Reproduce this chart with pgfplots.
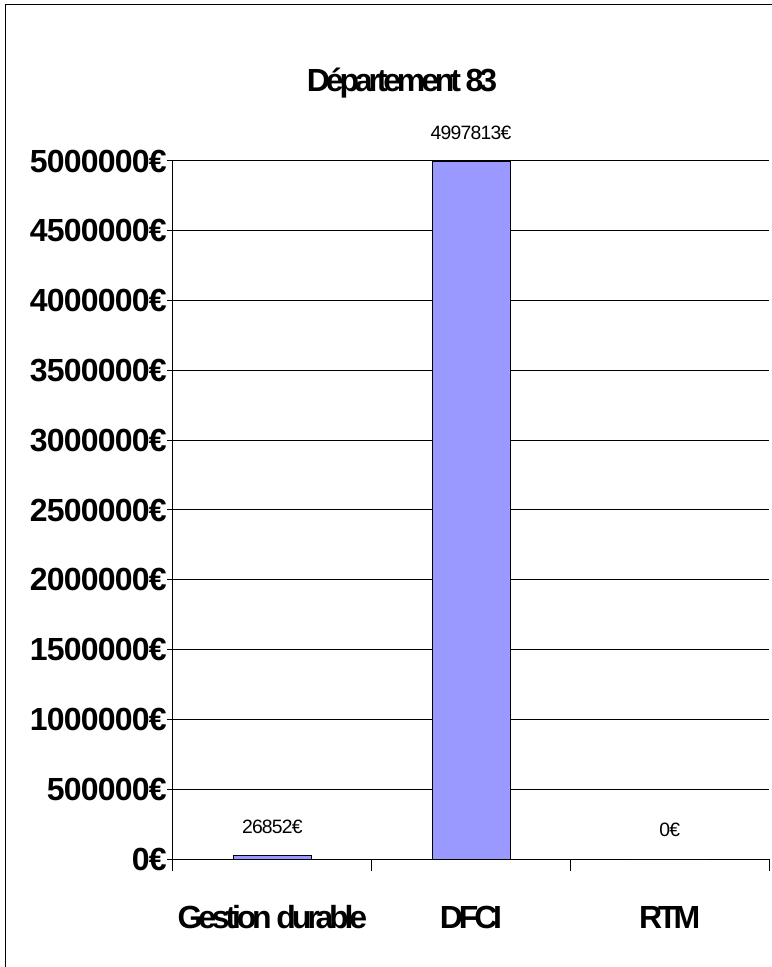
\documentclass[border=0pt]{standalone}
\usepackage{fontspec}
\setmainfont{Liberation Sans}
\newfontfamily\condfont[LetterSpace=-13]{Liberation Sans}
\newfontfamily\numfont[LetterSpace=-2.5]{Liberation Sans}
\newfontfamily\lblfont[LetterSpace=-4]{Liberation Sans}
\usepackage{pgfplots}
\pgfplotsset{compat=1.18}
\definecolor{barcol}{HTML}{9999FF}
\begin{document}
\begin{tikzpicture}[x=0.75pt,y=0.75pt]
\useasboundingbox (0,0) rectangle (771,967);
\draw[line width=0.75pt] (5,-20) -- (5,962) -- (800,962);
\node[anchor=base, font=\condfont\bfseries\fontsize{24}{28}\selectfont] at (402,875) {Département 83};
\begin{axis}[
  at={(129.75pt,81pt)}, anchor=south west,
  scale only axis, width=447pt, height=523.5pt,
  xmin=-0.5, xmax=2.5, ymin=0, ymax=5000000,
  axis x line*=bottom, axis y line*=left,
  axis line style={-, line width=0.75pt, black},
  ytick=\empty,
  extra y ticks={0,500000,1000000,1500000,2000000,2500000,3000000,3500000,4000000,4500000,5000000},
  extra y tick labels={0€,500000€,1000000€,1500000€,2000000€,2500000€,3000000€,3500000€,4000000€,4500000€,5000000€},
  extra y tick style={major tick length=4.5pt, grid=major,
    yticklabel style={font=\numfont\bfseries\fontsize{24}{28}\selectfont, inner sep=0pt}},
  scaled y ticks=false,
  grid style={black, line width=0.75pt},
  tick align=outside, major tick length=9pt,
  tick style={black, line width=0.75pt},
  xtick={-0.5,0.5,1.5,2.5}, xticklabels={},
  extra x ticks={0,1,2},
  extra x tick labels={Gestion durable, DFCI, RTM},
  extra x tick style={major tick length=0pt,
    xticklabel style={font=\condfont\bfseries\fontsize{24}{28}\selectfont, anchor=base, yshift=-51.75pt}},
  clip=false,
]
\addplot[ybar, bar width=58.5pt, fill=barcol, draw=black, line width=0.75pt,
  nodes near coords, point meta=explicit symbolic,
  nodes near coords style={anchor=base, yshift=16.5pt, font=\lblfont\fontsize{14.5}{17}\selectfont, inner sep=0pt}]
  coordinates {(0,26852) [26852€] (1,4997813) [4997813€] (2,0) [0€]};
\end{axis}
\end{tikzpicture}
\end{document}
